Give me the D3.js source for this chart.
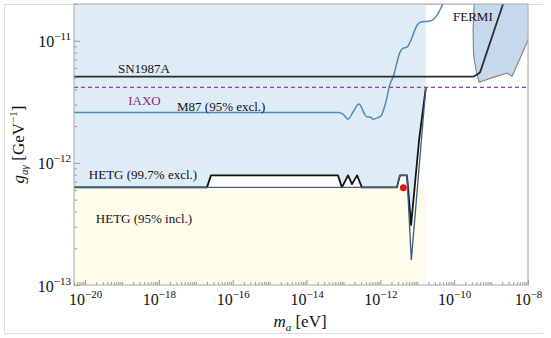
<!DOCTYPE html>
<html>
<head>
<meta charset="utf-8">
<script src="https://cdn.jsdelivr.net/npm/d3@7"></script>
<style>
  body { margin: 0; background: #fff; }
</style>
</head>
<body>
<script>
const width = 551;
const height = 338;
const margin = { top: 4, right: 23, bottom: 53, left: 74 };
const innerW = width - margin.left - margin.right;
const innerH = height - margin.top - margin.bottom;
const serif = "'Liberation Serif', 'Times New Roman', 'DejaVu Serif', serif";

// axis ranges (eV, GeV^-1) and where the HETG shading stops
const massRange = [5e-21, 1e-8];
const couplingRange = [1e-13, 2e-11];
const hetgEnd = 1.7e-11;
const hetgFloor = 6.3e-13;

const xTickExps = [-20, -18, -16, -14, -12, -10, -8];
const yTickExps = [-13, -12, -11];

// [m_a, g_ay] pairs
const sn1987a = [[5e-21, 5.08e-12], [3.25e-10, 5.08e-12], [4.17e-10, 5.28e-12], [5.04e-10, 5.53e-12], [2.11e-9, 2e-11]];
const iaxo = [[5e-21, 4.15e-12], [1e-8, 4.15e-12]];
const m87 = [
  [5e-21, 2.58e-12], [7.1e-14, 2.58e-12], [9.7e-14, 2.51e-12], [1.33e-13, 2.28e-12], [1.82e-13, 2.61e-12],
  [2.65e-13, 3.03e-12], [3.61e-13, 2.56e-12], [4.36e-13, 2.37e-12], [5.26e-13, 2.37e-12], [6.34e-13, 2.28e-12],
  [8.65e-13, 2.35e-12], [1.04e-12, 2.42e-12], [1.34e-12, 2.97e-12], [1.83e-12, 4.42e-12], [2.21e-12, 5.04e-12],
  [3.42e-12, 8.07e-12], [4.12e-12, 8.69e-12], [5.28e-12, 8.87e-12], [6.38e-12, 9.75e-12], [9.9e-12, 1.34e-11],
  [1.19e-11, 1.42e-11], [2.22e-11, 1.45e-11], [3.44e-11, 1.62e-11], [5e-11, 2.03e-11]
];
const hetgExcl = [
  [5e-21, 6.3e-13], [2.0e-17, 6.3e-13], [2.57e-17, 7.9e-13], [7.1e-14, 7.9e-13], [9.1e-14, 6.3e-13],
  [1.33e-13, 7.9e-13], [1.7e-13, 6.7e-13], [2.34e-13, 7.9e-13], [3.16e-13, 6.3e-13], [2.8e-12, 6.3e-13],
  [3.4e-12, 7.9e-13], [5.25e-12, 7.9e-13], [6.8e-12, 3.1e-13], [1.12e-11, 1.54e-12], [1.7e-11, 4.1e-12]
];
const hetgIncl = [
  [5e-21, 6.3e-13], [2.8e-12, 6.3e-13], [3.4e-12, 7.9e-13], [5.25e-12, 7.9e-13],
  [6.9e-12, 1.6e-13], [1.7e-11, 4.1e-12]
];
const fermi = [
  [3.57e-10, 2.4e-11], [3.25e-10, 1.22e-11], [3.36e-10, 7.62e-12], [3.92e-10, 5.74e-12], [4.73e-10, 4.58e-12],
  [1.45e-9, 5.13e-12], [2.71e-9, 5.43e-12], [3.71e-9, 5.13e-12], [1e-8, 1.01e-11], [3.5e-8, 2.4e-11]
];
const bestFit = [4.2e-12, 6.25e-13];

const svg = d3.select("body").append("svg")
    .attr("width", width)
    .attr("height", height)
    .style("font-family", serif);

// light outer border
svg.append("path")
    .attr("d", `M543,4.5H4.5V333.5H543`)
    .attr("fill", "none")
    .attr("stroke", "#dcdcdc");

const g = svg.append("g")
    .attr("transform", `translate(${margin.left},${margin.top})`);

g.append("clipPath").attr("id", "plot-clip")
  .append("rect").attr("width", innerW).attr("height", innerH);

const x = d3.scaleLog().domain(massRange).range([0, innerW]);
const y = d3.scaleLog().domain(couplingRange).range([innerH, 0]);

const line = d3.line().x(d => x(d[0])).y(d => y(d[1]));
const smoothLine = d3.line().x(d => x(d[0])).y(d => y(d[1])).curve(d3.curveMonotoneX);

const plot = g.append("g").attr("clip-path", "url(#plot-clip)");

// HETG 95% inclusion region
plot.append("rect")
    .attr("x", x(massRange[0]))
    .attr("y", y(hetgFloor))
    .attr("width", x(hetgEnd) - x(massRange[0]))
    .attr("height", innerH - y(hetgFloor))
    .attr("fill", "#fefdec");

// excluded region above the 99.7% curve
plot.append("path")
    .datum(hetgExcl)
    .attr("fill", "#deecf6")
    .attr("d", d3.area()
        .x(d => x(d[0]))
        .y0(0)
        .y1(d => y(d[1])));

plot.append("path")
    .datum(fermi)
    .attr("fill", "#c6d9ec")
    .attr("stroke", "#8a8a8a")
    .attr("stroke-width", 1.2)
    .attr("d", d => line(d) + "Z");

plot.append("path")
    .datum(m87)
    .attr("fill", "none")
    .attr("stroke", "#4a8bbd")
    .attr("stroke-width", 1.5)
    .attr("d", smoothLine);

plot.append("path")
    .datum(iaxo)
    .attr("fill", "none")
    .attr("stroke", "#8e3fa6")
    .attr("stroke-width", 1.4)
    .attr("stroke-dasharray", "4,3")
    .attr("d", line);

plot.append("path")
    .datum(sn1987a)
    .attr("fill", "none")
    .attr("stroke", "#2b2b2b")
    .attr("stroke-width", 1.8)
    .attr("d", line);

plot.append("path")
    .datum(hetgExcl)
    .attr("fill", "none")
    .attr("stroke", "#111")
    .attr("stroke-width", 1.8)
    .attr("stroke-linejoin", "round")
    .attr("d", line);

plot.append("path")
    .datum(hetgIncl)
    .attr("fill", "none")
    .attr("stroke", "#3c5d80")
    .attr("stroke-width", 1.3)
    .attr("d", line);

plot.append("circle")
    .attr("cx", x(bestFit[0]))
    .attr("cy", y(bestFit[1]))
    .attr("r", 3.5)
    .attr("fill", "#e8161b");

// region labels
const labels = [
  { text: "SN1987A", x: 70, y: 68.5, anchor: "middle", color: "#111" },
  { text: "IAXO", x: 70.5, y: 101, anchor: "middle", color: "#8a1f8a" },
  { text: "M87 (95% excl.)", x: 103, y: 107, anchor: "start", color: "#111" },
  { text: "HETG (99.7% excl.)", x: 69, y: 175, anchor: "middle", color: "#111" },
  { text: "HETG (95% incl.)", x: 70, y: 218.5, anchor: "middle", color: "#111" },
  { text: "FERMI", x: 379, y: 17, anchor: "start", color: "#111" }
];
g.selectAll(".region-label")
  .data(labels)
  .enter().append("text")
    .attr("class", "region-label")
    .attr("x", d => d.x)
    .attr("y", d => d.y)
    .attr("text-anchor", d => d.anchor)
    .attr("font-family", serif)
    .attr("font-size", 13)
    .attr("fill", d => d.color)
    .text(d => d.text);

// ticks: majors every two decades, minors at 1..9 of each decade
const minorX = [];
for (let e = -21; e < -8; e++) {
  for (let k = 1; k < 10; k++) {
    const v = k * Math.pow(10, e);
    if (v >= massRange[0] && v <= massRange[1] && !(k === 1 && e % 2 === 0)) minorX.push(v);
  }
}
const minorY = [];
for (let e = -13; e < -10; e++) {
  for (let k = 2; k < 10; k++) {
    const v = k * Math.pow(10, e);
    if (v <= couplingRange[1]) minorY.push(v);
  }
}

function supLabel(sel, exp) {
  sel.text("10")
    .append("tspan")
      .attr("dy", -7)
      .attr("font-size", 11)
      .text("\u2212" + Math.abs(exp));
}

const xMinorAxis = g.append("g")
    .attr("transform", `translate(0,${innerH})`)
    .call(d3.axisBottom(x).tickValues(minorX).tickSize(-3).tickFormat(""));
const xAxis = g.append("g")
    .attr("transform", `translate(0,${innerH})`)
    .call(d3.axisBottom(x).tickValues(xTickExps.map(e => Math.pow(10, e))).tickSize(-5).tickFormat(""));
const yMinorAxis = g.append("g")
    .call(d3.axisLeft(y).tickValues(minorY).tickSize(-3).tickFormat(""));
const yAxis = g.append("g")
    .call(d3.axisLeft(y).tickValues(yTickExps.map(e => Math.pow(10, e))).tickSize(-6).tickFormat(""));

[xMinorAxis, xAxis, yMinorAxis, yAxis].forEach(a => {
  a.attr("font-family", serif);
  a.select(".domain").remove();
  a.selectAll(".tick line").attr("stroke", "#9a9a9a");
});

xAxis.selectAll(".tick text")
    .attr("y", 20)
    .attr("dy", 0)
    .attr("font-size", 16)
    .attr("fill", "#111")
    .each(function(d) { supLabel(d3.select(this), Math.round(Math.log10(d))); });

yAxis.selectAll(".tick text")
    .attr("x", -3)
    .attr("dy", 6)
    .attr("font-size", 16)
    .attr("fill", "#111")
    .each(function(d) { supLabel(d3.select(this), Math.round(Math.log10(d))); });

// plot frame
g.append("rect")
    .attr("width", innerW)
    .attr("height", innerH)
    .attr("fill", "none")
    .attr("stroke", "#a8a8a8");

// axis titles
const xTitle = g.append("text")
    .attr("x", 226)
    .attr("y", innerH + 42)
    .attr("text-anchor", "middle")
    .attr("font-family", serif)
    .attr("font-size", 17)
    .attr("fill", "#111");
xTitle.append("tspan").attr("font-style", "italic").text("m");
xTitle.append("tspan").attr("font-style", "italic").attr("font-size", 11).attr("dy", 4).text("a");
xTitle.append("tspan").attr("dy", -4).text(" [eV]");

const yTitle = svg.append("text")
    .attr("transform", `translate(24,${margin.top + innerH / 2}) rotate(-90)`)
    .attr("text-anchor", "middle")
    .attr("font-family", serif)
    .attr("font-size", 17)
    .attr("fill", "#111");
yTitle.append("tspan").attr("font-style", "italic").text("g");
yTitle.append("tspan").attr("font-style", "italic").attr("font-size", 11).attr("dy", 4).text("a\u03b3");
yTitle.append("tspan").attr("dy", -4).text(" [GeV");
yTitle.append("tspan").attr("font-size", 11).attr("dy", -7).text("\u22121");
yTitle.append("tspan").attr("dy", 7).text("]");
</script>
</body>
</html>
